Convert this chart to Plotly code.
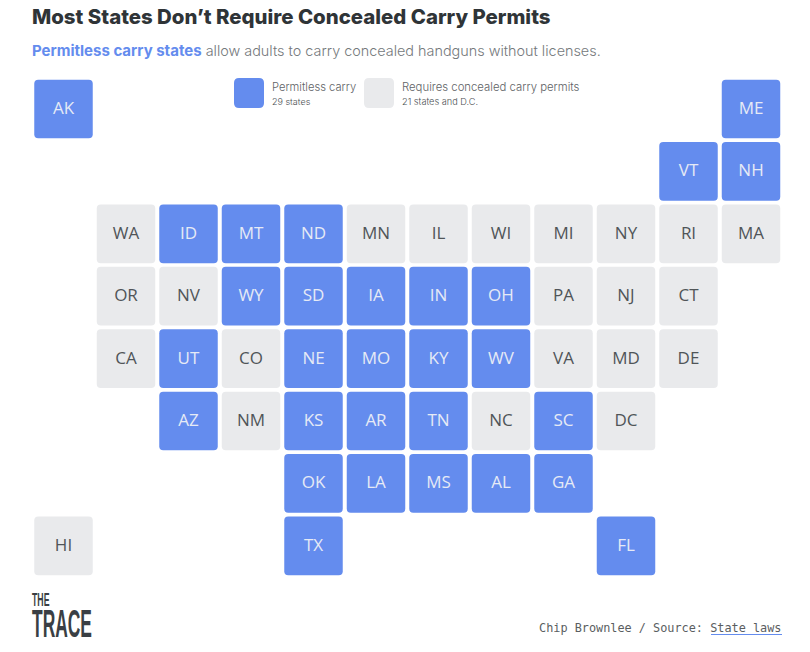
import plotly.graph_objects as go

# tile grid
states = ["AK", "ME",
          "VT", "NH",
          "WA", "ID", "MT", "ND", "MN", "IL", "WI", "MI", "NY", "RI", "MA",
          "OR", "NV", "WY", "SD", "IA", "IN", "OH", "PA", "NJ", "CT",
          "CA", "UT", "CO", "NE", "MO", "KY", "WV", "VA", "MD", "DE",
          "AZ", "NM", "KS", "AR", "TN", "NC", "SC", "DC",
          "OK", "LA", "MS", "AL", "GA",
          "HI", "TX", "FL"]
state_cols = [0, 11,
              10, 11,
              1, 2, 3, 4, 5, 6, 7, 8, 9, 10, 11,
              1, 2, 3, 4, 5, 6, 7, 8, 9, 10,
              1, 2, 3, 4, 5, 6, 7, 8, 9, 10,
              2, 3, 4, 5, 6, 7, 8, 9,
              4, 5, 6, 7, 8,
              0, 4, 9]
state_rows = [0, 0,
              1, 1,
              2, 2, 2, 2, 2, 2, 2, 2, 2, 2, 2,
              3, 3, 3, 3, 3, 3, 3, 3, 3, 3,
              4, 4, 4, 4, 4, 4, 4, 4, 4, 4,
              5, 5, 5, 5, 5, 5, 5, 5,
              6, 6, 6, 6, 6,
              7, 7, 7]
permitless = ["AK", "ME", "VT", "NH", "ID", "MT", "ND", "WY", "SD", "IA", "IN", "OH",
              "UT", "NE", "MO", "KY", "WV", "AZ", "KS", "AR", "TN", "SC", "OK", "LA",
              "MS", "AL", "GA", "TX", "FL"]

BLUE = "#648cee"
GRAY = "#e9eaec"
DARK = "#2f3437"
W, H = 810, 652


def px(x):
    return x / W


def py(y):
    return 1 - y / H


fig = go.Figure()

for is_blue, color, txt_color in [(True, BLUE, "#e6eaf5"), (False, GRAY, "#505558")]:
    idx = [i for i, s in enumerate(states) if (s in permitless) == is_blue]
    xs = [state_cols[i] for i in idx]
    ys = [state_rows[i] for i in idx]
    fig.add_trace(go.Bar(x=xs, y=[0.94] * len(xs), base=[r - 0.47 for r in ys], width=0.936,
                         marker=dict(color=color, line_width=0, cornerradius=4),
                         hoverinfo="skip", showlegend=False))
    # labels sit a hair below the tile centre
    fig.add_trace(go.Scatter(x=xs, y=[r + 0.012 for r in ys], mode="text",
                             text=[states[i] for i in idx],
                             textposition="middle center",
                             textfont=dict(family="Open Sans", size=17, color=txt_color),
                             hoverinfo="skip", showlegend=False))


def note(x, y, text, size, color, family="Inter", weight=None, anchor="left"):
    fig.add_annotation(xref="paper", yref="paper", x=px(x), y=py(y), text=text,
                       showarrow=False, xanchor=anchor, yanchor="middle",
                       borderpad=0, borderwidth=0,
                       font=dict(family=family, size=size, color=color, weight=weight))


def swatch(x0, y0, size, color, r=5):
    a, b, c, d = px(x0), px(x0 + size), py(y0), py(y0 + size)
    rx, ry = r / W, r / H
    path = (f"M {a + rx} {c} L {b - rx} {c} Q {b} {c} {b} {c - ry} L {b} {d + ry} "
            f"Q {b} {d} {b - rx} {d} L {a + rx} {d} Q {a} {d} {a} {d + ry} "
            f"L {a} {c - ry} Q {a} {c} {a + rx} {c} Z")
    fig.add_shape(type="path", path=path, xref="paper", yref="paper",
                  fillcolor=color, line_width=0)


# title and subtitle
note(32, 17, "Most States Don’t Require Concealed Carry Permits", 20.4, DARK, weight=800)
note(32, 51, f"<span style='color:{BLUE};font-size:15px'><b>Permitless carry states</b></span> "
             "allow adults to carry concealed handguns without licenses.",
     14.4, "#75797c", weight=300)

# legend
swatch(234, 78, 30, BLUE)
note(271.5, 87, "Permitless carry", 11.2, "#5e6265", weight=300)
note(271.5, 101, "29 states", 9, "#4c5053", weight=300)
swatch(364, 78, 30, GRAY)
note(401.5, 87, "Requires concealed carry permits", 11.35, "#5e6265", weight=300)
note(401.5, 101, "21 states and D.C.", 9.2, "#4c5053", weight=300)

# logo and credit
note(31.5, 600, "<b>THE</b>", 18, "#3a3f44", family="Liberation Sans")
note(31.5, 623, "<b>TRACE</b>", 38.5, "#3a3f44", family="Liberation Sans")
note(539, 628, "Chip Brownlee / Source: State laws", 11.85, "#5a5e61", family="DejaVu Sans Mono")
fig.add_shape(type="line", xref="paper", yref="paper", x0=px(711), x1=px(782),
              y0=py(634.5), y1=py(634.5), line=dict(color=BLUE, width=1))

fig.update_layout(width=W, height=H, margin=dict(l=0, r=0, t=0, b=0),
                  barmode="overlay", plot_bgcolor="white", paper_bgcolor="white",
                  showlegend=False)
fig.update_xaxes(visible=False, range=[-63.5 / 62.5, (W - 63.5) / 62.5])
fig.update_yaxes(visible=False, range=[(H - 109) / 62.4, -109 / 62.4])

# drop the page margin and squeeze the logo words, no condensed font is installed
squeeze = """
document.body.style.margin = '0';
var widths = {'THE': 17.5, 'TRACE': 60};
document.querySelectorAll('.annotation-text').forEach(function (t) {
  var w = widths[t.textContent];
  if (!w) return;
  var b = t.getBBox();
  t.setAttribute('transform', 'translate(' + b.x + ',0) scale(' + (w / b.width) + ',1) translate(' + (-b.x) + ',0)');
});
"""
fig.write_html("out.html", post_script=squeeze, config={"displayModeBar": False})
